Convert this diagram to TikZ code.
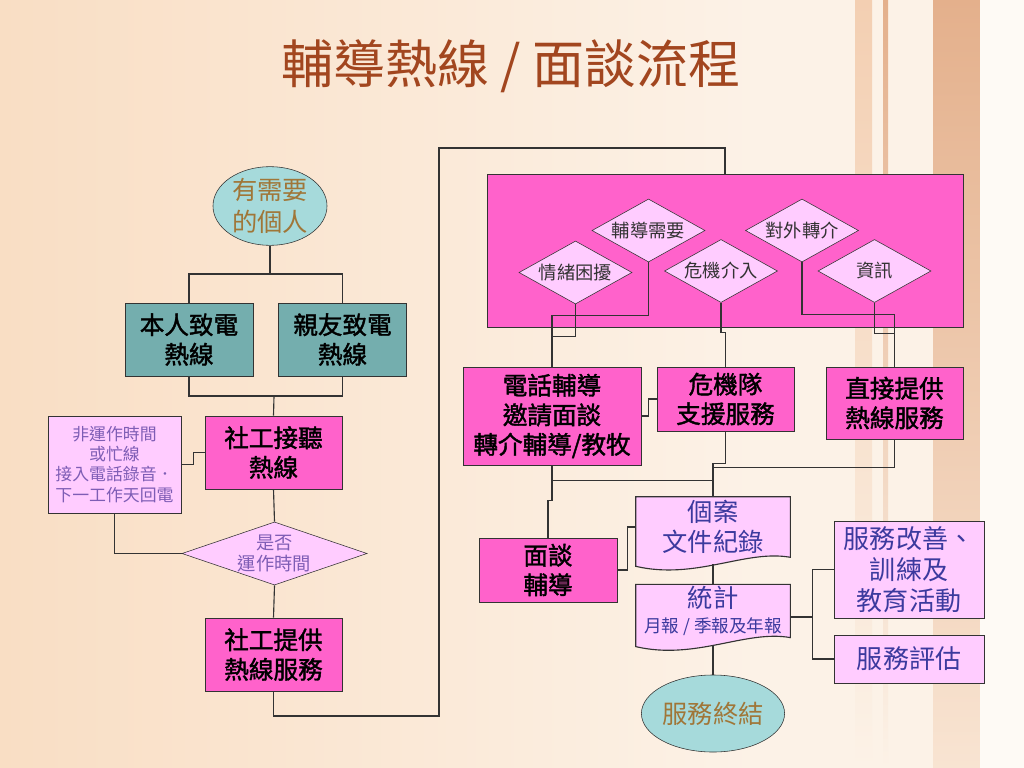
\documentclass[tikz,border=0pt]{standalone}
\usepackage{fontspec}
\setmainfont{Noto Sans CJK TC}
\newfontfamily\boxfont{Noto Sans CJK TC}[FakeBold=1.6]
\usetikzlibrary{shapes.geometric,backgrounds,calc}

\definecolor{pagepeach}{HTML}{F9DEC4}
\definecolor{pagelight}{HTML}{FCF2E7}
\definecolor{stripetan}{HTML}{E4B08C}
\definecolor{stripelight}{HTML}{F3CFB2}
\definecolor{titlebrown}{HTML}{A2461F}
\definecolor{eggcyan}{HTML}{A6DADB}
\definecolor{eggbrown}{HTML}{A07638}
\definecolor{callteal}{HTML}{74AEAE}
\definecolor{hotmag}{HTML}{FF62CB}
\definecolor{softpink}{HTML}{FFCCFF}
\definecolor{notepurple}{HTML}{7E5DB5}
\definecolor{inkblue}{HTML}{3C3A9E}
\definecolor{linegray}{HTML}{333333}

\tikzset{
  box/.style={draw=linegray, rectangle, align=center, inner sep=1pt,
    font=\boxfont\fontsize{17.5}{21}\selectfont},
  hotbox/.style={box, fill=hotmag},
  callbox/.style={box, fill=callteal},
  softbox/.style={draw=linegray, rectangle, fill=softpink, align=center, inner sep=1pt,
    text=inkblue, font=\fontsize{18.5}{22}\selectfont},
  docnode/.style={rectangle, align=center, inner sep=1pt, text=inkblue,
    font=\fontsize{18}{21}\selectfont},
  egg/.style={draw=linegray, ellipse, fill=eggcyan, align=center, inner sep=0pt,
    text=eggbrown, font=\fontsize{18}{23}\selectfont},
  choice/.style={draw=linegray, diamond, fill=softpink, align=center, inner sep=0pt,
    text=black!80, font=\fontsize{13}{15}\selectfont},
  link/.style={draw=linegray, line width=0.8pt},
  docshape/.style={draw=linegray, fill=softpink, line width=0.8pt}
}

\begin{document}
\begin{tikzpicture}[x=0.025cm, y=-0.025cm]
\useasboundingbox (0,0) rectangle (1024,768);

% page
\begin{pgfonlayer}{background}
  \shade[left color=pagepeach, right color=pagelight] (0,0) rectangle (760,768);
  \fill[pagelight] (760,0) rectangle (1024,768);
  \shade[top color=stripelight, bottom color=pagelight] (855,0) rectangle (872,768);
  \shade[top color=stripetan, bottom color=pagelight] (883,0) rectangle (888,768);
  \shade[top color=stripetan, bottom color=stripelight!40!pagelight] (933,0) rectangle (980,768);
  \fill[white!60!pagelight] (980,0) rectangle (1024,768);
\end{pgfonlayer}

\node[font=\fontsize{37}{42}\selectfont, text=titlebrown] (title) at (511,66) {輔導熱線 / 面談流程};

% left side
\node[egg, minimum width=2.85cm, minimum height=1.9cm] (need) at (270,206) {有需要\\的個人};
\node[callbox, minimum width=3.2cm, minimum height=1.825cm] (self) at (189,339.5) {本人致電\\熱線};
\node[callbox, minimum width=3.2cm, minimum height=1.825cm] (friend) at (342.5,339.5) {親友致電\\熱線};
\node[hotbox, minimum width=3.425cm, minimum height=1.825cm] (listen) at (273.5,452.5) {社工接聽\\熱線};
\node[softbox, text=notepurple, font=\fontsize{12}{14.3}\selectfont,
  minimum width=3.325cm, minimum height=2.425cm] (note) at (114.5,464.5)
  {非運作時間\\或忙線\\接入電話錄音．\\下一工作天回電};
\node[choice, text=notepurple, font=\fontsize{13}{15.5}\selectfont, shape aspect=2.9,
  minimum width=4.625cm, minimum height=1.575cm] (check) at (274.5,553.5) {是否\\運作時間};
\node[hotbox, minimum width=3.425cm, minimum height=1.825cm] (provide) at (273.5,654.5) {社工提供\\熱線服務};

% right side
\node[draw=linegray, fill=hotmag, minimum width=11.9cm, minimum height=3.825cm] (hub) at (725,250.5) {};
\node[choice, shape aspect=1.8, minimum width=2.825cm, minimum height=1.575cm] (need2) at (648.5,230.5) {輔導需要};
\node[choice, shape aspect=1.8, minimum width=2.825cm, minimum height=1.575cm] (mood) at (575.5,272.5) {情緒困擾};
\node[choice, shape aspect=1.8, minimum width=2.825cm, minimum height=1.575cm] (crisisin) at (721,271) {危機介入};
\node[choice, shape aspect=1.8, minimum width=2.825cm, minimum height=1.575cm] (refer) at (802,230.5) {對外轉介};
\node[choice, shape aspect=1.8, minimum width=2.825cm, minimum height=1.575cm] (info) at (874.5,271) {資訊};

\node[hotbox, minimum width=4.45cm, minimum height=2.45cm] (phone) at (552,416) {電話輔導\\邀請面談\\轉介輔導/教牧};
\node[hotbox, minimum width=3.425cm, minimum height=1.6cm] (crisis) at (725.5,399) {危機隊\\支援服務};
\node[hotbox, minimum width=3.425cm, minimum height=1.8cm] (direct) at (894.5,403) {直接提供\\熱線服務};
\node[hotbox, minimum width=3.45cm, minimum height=1.6cm] (face) at (548,570) {面談\\輔導};
\node[docnode, minimum width=3.85cm, minimum height=1.5cm] (record) at (713,527) {個案\\文件紀錄};
\node[docnode, minimum width=3.85cm, minimum height=1.25cm] (stats) at (713,611)
  {統計\\[-3pt]{\fontsize{12.5}{14}\selectfont 月報 / 季報及年報}};
\node[egg, minimum width=2.8cm, minimum height=1.925cm] (finish) at (713,713.5) {服務終結};
\node[softbox, minimum width=3.75cm, minimum height=2.425cm] (improve) at (909,569.5) {服務改善、\\訓練及\\教育活動};
\node[softbox, minimum width=3.75cm, minimum height=1.2cm] (review) at (909,659) {服務評估};

\begin{pgfonlayer}{background}
  \path[docshape] (record.north west) -- (record.north east) -- (record.south east)
    .. controls +(-45,-8) and +(60,14) .. ($(record.south west)+(0,9)$) -- cycle;
  \path[docshape] (stats.north west) -- (stats.north east) -- (stats.south east)
    .. controls +(-45,-8) and +(60,14) .. ($(stats.south west)+(0,9)$) -- cycle;
\end{pgfonlayer}

\coordinate (split) at (270,274);
\coordinate (join) at (274,396);
\coordinate (loopdown) at (439,716);
\coordinate (loopup) at (439,148);

\draw[link] (need) -- (split);
\draw[link] (self.north) |- (split) -| (friend.north);
\draw[link] (self.south) |- (join) -| (friend.south);
\draw[link] (join) -- (listen.north);
\draw[link] (note.east) -- ++(12,0) |- (listen.west);
\draw[link] (listen.south) -- (check.north);
\draw[link] (note.south) |- (check.west);
\draw[link] (check.south) -- (provide.north);
\draw[link] (provide.south) |- (loopdown) -- (loopup) -| (hub.north);

\draw[link] (mood.south) -- ++(0,32) -| (phone.north);
\draw[link] (need2.south) -- ++(0,53) -| (phone.north);
\draw[link] (crisisin.south) -- ++(0,30) -| (crisis.north);
\draw[link] (refer.south) -- ++(0,52) -| (direct.north);
\draw[link] (info.south) -- ++(0,31) -| (direct.north);

\draw[link] (phone.east) -- ++(7,0) |- (crisis.west);
\draw[link] (crisis.south) -- ++(0,32) -| (record.north);
\draw[link] (direct.south) -- ++(0,28) -| (record.north);
\draw[link] (phone.south) -- ++(0,15) -| (record.north);
\draw[link] (phone.south) -- ++(0,35) -| (face.north);
\draw[link] (face.east) -- ++(10,0) |- (record.west);
\draw[link] ($(record.south)+(0,7)$) -- (stats.north);
\draw[link] ($(stats.south)+(0,7)$) -- (finish.north);
\draw[link] ($(stats.east)+(0,6)$) -- ++(22,0) coordinate (fork);
\draw[link] (improve.west) -| (fork) |- (review.west);
\end{tikzpicture}
\end{document}
